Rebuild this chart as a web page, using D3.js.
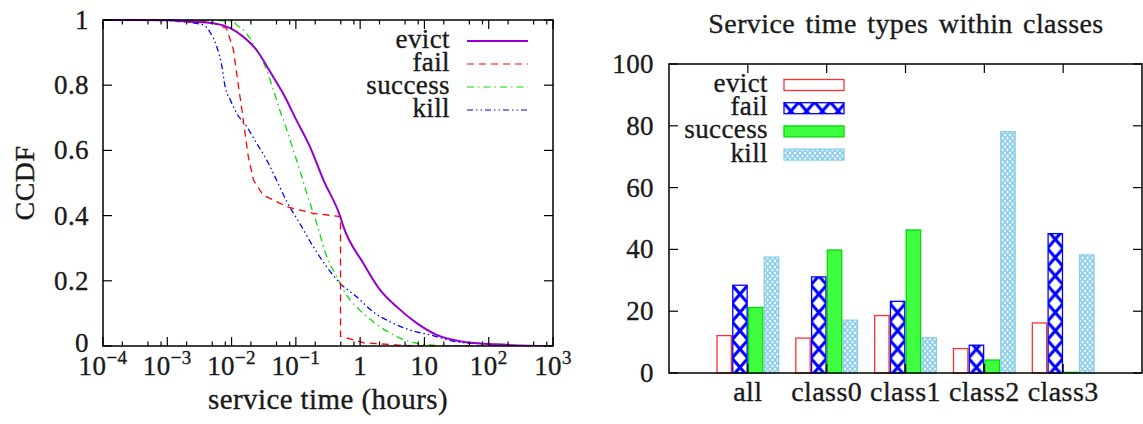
<!DOCTYPE html>
<html>
<head>
<meta charset="utf-8">
<script src="https://cdn.jsdelivr.net/npm/d3@7"></script>
<style>
  body { margin: 0; background: #fff; }
</style>
</head>
<body>
<svg id="chart" width="1143" height="424"></svg>
<script>
// CCDF of service time (hours) per termination type: [hours, ccdf]
const evictCcdf = [[0.0001,1],[0.001,0.999],[0.00224,0.995],[0.00525,0.99],[0.00955,0.975],[0.0151,0.949],[0.0245,0.908],[0.0398,0.841],[0.0631,0.775],[0.102,0.693],[0.166,0.611],[0.269,0.509],[0.49,0.397],[0.55,0.366],[1.12,0.254],[2.04,0.172],[3.72,0.12],[7.59,0.07],[15.5,0.034],[39.8,0.013],[132,0.005],[398,0.001],[1000,0]]
const failCcdf = [[0.0001,1],[0.00316,0.998],[0.00525,0.99],[0.00832,0.975],[0.0107,0.908],[0.0126,0.806],[0.0145,0.724],[0.0162,0.652],[0.0182,0.581],[0.0219,0.509],[0.0309,0.463],[0.0501,0.443],[0.0724,0.427],[0.186,0.407],[0.495,0.397],[0.495,0.03],[1.12,0.01],[3.72,0.003],[10,0],[1000,0]]
const successCcdf = [[0.0001,1],[0.00631,0.998],[0.0107,0.995],[0.012,0.985],[0.017,0.959],[0.0245,0.908],[0.0351,0.847],[0.0447,0.785],[0.0562,0.724],[0.0724,0.663],[0.0912,0.601],[0.115,0.54],[0.148,0.468],[0.211,0.376],[0.302,0.274],[0.431,0.213],[0.617,0.156],[1.12,0.1],[2.04,0.059],[3.72,0.029],[6.76,0.01],[12.3,0.003],[31.6,0],[1000,0]]
const killCcdf = [[0.0001,1],[0.001,0.998],[0.00158,0.995],[0.00363,0.985],[0.00457,0.964],[0.00589,0.918],[0.00708,0.857],[0.00794,0.795],[0.00955,0.755],[0.012,0.714],[0.0172,0.673],[0.0245,0.622],[0.0351,0.571],[0.0501,0.509],[0.0724,0.443],[0.115,0.376],[0.186,0.305],[0.302,0.243],[0.49,0.192],[0.881,0.151],[1.58,0.105],[2.88,0.075],[5.96,0.049],[12.3,0.034],[31.6,0.013],[83.2,0.006],[229,0.001],[1000,0]]

// bar chart: share (%) of each type within classes
const categories = ['all', 'class0', 'class1', 'class2', 'class3']
const types = ['evict', 'fail', 'success', 'kill']
const evictPct = [12.1, 11.3, 18.6, 7.9, 16.2]
const failPct = [28.4, 31.1, 23.2, 9.0, 45.1]
const successPct = [21.2, 39.8, 46.3, 4.2, 0.2]
const killPct = [37.5, 17.1, 11.4, 78.1, 38.2]

const xTickExps = [-4, -3, -2, -1, 0, 1, 2, 3]
const ccdfTicks = [0, 0.2, 0.4, 0.6, 0.8, 1]
const pctTicks = [0, 20, 40, 60, 80, 100]

const svg = d3.select('#chart')
svg.append('rect').attr('width', 1143).attr('height', 424).attr('fill', '#fff')

const FONT = "'Liberation Serif', 'Times New Roman', 'DejaVu Serif', serif"
const FS = 27
const TICK = 9

// every label goes through here; a hairline stroke thickens the face a bit
const label = (g, x, y, anchor, size = FS) => g.append('text')
  .attr('x', x).attr('y', y)
  .attr('text-anchor', anchor)
  .style('font-family', FONT)
  .style('font-size', size + 'px')
  .style('letter-spacing', '0.4px')
  .style('fill', '#1a1a1a')
  .style('stroke', '#1a1a1a')
  .style('stroke-width', 0.35)

// ---------- left: CCDF ----------
const L = { left: 103, right: 553, top: 20, bottom: 346 }
const x = d3.scaleLog().domain([1e-4, 1e3]).range([L.left, L.right])
const y = d3.scaleLinear().domain([0, 1]).range([L.bottom, L.top])

const left = svg.append('g')

const series = [
  { name: 'evict', data: evictCcdf, color: '#9400d3', width: 2, dash: null, curve: d3.curveMonotoneX },
  { name: 'fail', data: failCcdf, color: '#ff0000', width: 1.3, dash: '7,5', curve: d3.curveLinear },
  { name: 'success', data: successCcdf, color: '#00e000', width: 1.3, dash: '7,4,1.5,4', curve: d3.curveMonotoneX },
  { name: 'kill', data: killCcdf, color: '#0000ff', width: 1.3, dash: '6,3,1.5,3,1.5,3', curve: d3.curveMonotoneX }
]

left.append('clipPath').attr('id', 'clipL')
  .append('rect').attr('x', L.left).attr('y', L.top - 2)
  .attr('width', L.right - L.left).attr('height', L.bottom - L.top + 2)

// draw in reverse so evict sits on top
series.slice().reverse().forEach(s => {
  left.append('path')
    .attr('clip-path', 'url(#clipL)')
    .attr('d', d3.line().x(d => x(d[0])).y(d => y(d[1])).curve(s.curve)(s.data))
    .attr('fill', 'none')
    .attr('stroke', s.color)
    .attr('stroke-width', s.width)
    .attr('stroke-dasharray', s.dash)
})

// border
left.append('rect')
  .attr('x', L.left).attr('y', L.top)
  .attr('width', L.right - L.left).attr('height', L.bottom - L.top)
  .attr('fill', 'none').attr('stroke', '#000').attr('stroke-width', 1.5)

// y ticks, both sides
ccdfTicks.forEach(t => {
  left.append('line').attr('x1', L.left).attr('x2', L.left + TICK)
    .attr('y1', y(t)).attr('y2', y(t)).attr('stroke', '#000').attr('stroke-width', 1.2)
  left.append('line').attr('x1', L.right).attr('x2', L.right - TICK)
    .attr('y1', y(t)).attr('y2', y(t)).attr('stroke', '#000').attr('stroke-width', 1.2)
  label(left, L.left - 14, y(t) + (t === 0 ? 6 : 9), 'end')
    .text(t === 0 || t === 1 ? String(t) : t.toFixed(1))
})

// x ticks: majors at decades, minors at 2, 5, 8
xTickExps.forEach(e => {
  const v = Math.pow(10, e)
  ;[L.bottom, L.top].forEach((yy, k) => {
    const dir = k === 0 ? -1 : 1
    left.append('line').attr('x1', x(v)).attr('x2', x(v))
      .attr('y1', yy).attr('y2', yy + dir * TICK).attr('stroke', '#000').attr('stroke-width', 1.2)
    if (e < 3) {
      [2, 5, 8].forEach(m => {
        left.append('line').attr('x1', x(v * m)).attr('x2', x(v * m))
          .attr('y1', yy).attr('y2', yy + dir * 4.5).attr('stroke', '#000').attr('stroke-width', 1.2)
      })
    }
  })
  const lbl = label(left, x(v), L.bottom + 29, 'middle')
  if (e === 0) lbl.text('1')
  else if (e === 1) lbl.text('10')
  else {
    lbl.append('tspan').text('10')
    lbl.append('tspan').attr('dy', -11).style('font-size', '19px')
      .text(e < 0 ? '\u2212' + Math.abs(e) : String(e))
  }
})

label(left, (L.left + L.right) / 2, 409, 'middle', 29).text('service time (hours)')

label(left, 0, 0, 'middle', 28)
  .attr('transform', `translate(34, ${(L.top + L.bottom) / 2}) rotate(-90)`)
  .text('CCDF')

// legend
series.forEach((s, i) => {
  const cy = 41 + i * 23
  label(left, 450, cy + 7, 'end', 27).text(s.name)
  left.append('line')
    .attr('x1', 467).attr('x2', 528).attr('y1', cy).attr('y2', cy)
    .attr('stroke', s.color).attr('stroke-width', s.width === 2 ? 1.8 : 1.2)
    .attr('stroke-dasharray', s.dash)
})

// ---------- right: grouped bars ----------
const R = { left: 669, right: 1142, top: 64, bottom: 373 }
const x0 = d3.scaleBand().domain(categories).range([R.left, R.right])
  .paddingInner(0.2).paddingOuter(0.6)
const x1 = d3.scaleBand().domain(types).range([0, x0.bandwidth()]).padding(0)
const yb = d3.scaleLinear().domain([0, 100]).range([R.bottom, R.top])

const right = svg.append('g')
const defs = svg.append('defs')

const bw = x1.bandwidth()
const failCellH = 18.3

function addFailPattern(id, px, py) {
  const p = defs.append('pattern').attr('id', id)
    .attr('patternUnits', 'userSpaceOnUse')
    .attr('x', px).attr('y', py)
    .attr('width', bw).attr('height', failCellH)
  p.append('rect').attr('width', bw).attr('height', failCellH).attr('fill', '#fff')
  p.append('path')
    .attr('d', `M0,0L${bw},${failCellH}M${bw},0L0,${failCellH}`)
    .attr('stroke', '#0000ff').attr('stroke-width', 3)
}

const killPat = defs.append('pattern').attr('id', 'killPat')
  .attr('patternUnits', 'userSpaceOnUse').attr('width', 5).attr('height', 6)
killPat.append('rect').attr('width', 5).attr('height', 6).attr('fill', '#fff')
killPat.append('path').attr('d', 'M0,0L5,6M5,0L0,6')
  .attr('stroke', '#87ceeb').attr('stroke-width', 1.7)

const table = categories.map((c, i) => ({
  cat: c,
  values: { evict: evictPct[i], fail: failPct[i], success: successPct[i], kill: killPct[i] }
}))

table.forEach((row, i) => {
  addFailPattern('failPat' + i, x0(row.cat) + x1('fail'), R.bottom + 3.5)
})

const style = {
  evict: { fill: () => '#fff', stroke: '#ff3030' },
  fail: { fill: i => `url(#failPat${i})`, stroke: '#0000ff' },
  success: { fill: () => '#40ff40', stroke: '#00dd00' },
  kill: { fill: () => 'url(#killPat)', stroke: '#87ceeb' }
}

table.forEach((row, i) => {
  types.forEach(t => {
    const v = row.values[t]
    right.append('rect')
      .attr('x', x0(row.cat) + x1(t) + 0.7)
      .attr('y', yb(v))
      .attr('width', bw - 1.4)
      .attr('height', yb(0) - yb(v))
      .attr('fill', style[t].fill(i))
      .attr('stroke', style[t].stroke)
      .attr('stroke-width', 1.3)
  })
})

right.append('rect')
  .attr('x', R.left).attr('y', R.top)
  .attr('width', R.right - R.left).attr('height', R.bottom - R.top)
  .attr('fill', 'none').attr('stroke', '#000').attr('stroke-width', 1.5)

pctTicks.forEach(t => {
  right.append('line').attr('x1', R.left).attr('x2', R.left + TICK)
    .attr('y1', yb(t)).attr('y2', yb(t)).attr('stroke', '#000').attr('stroke-width', 1.2)
  right.append('line').attr('x1', R.right).attr('x2', R.right - TICK)
    .attr('y1', yb(t)).attr('y2', yb(t)).attr('stroke', '#000').attr('stroke-width', 1.2)
  label(right, R.left - 15, yb(t) + 9, 'end').text(t)
})

categories.forEach(c => {
  const cx = x0(c) + x0.bandwidth() / 2
  right.append('line').attr('x1', cx).attr('x2', cx)
    .attr('y1', R.top).attr('y2', R.top + TICK).attr('stroke', '#000').attr('stroke-width', 1.2)
  right.append('line').attr('x1', cx).attr('x2', cx)
    .attr('y1', R.bottom).attr('y2', R.bottom - TICK).attr('stroke', '#000').attr('stroke-width', 1.2)
  label(right, cx, 401, 'middle', 28).text(c)
})

label(right, 906, 33, 'middle', 28)
  .style('word-spacing', '3px')
  .text('Service time types within classes')

// legend
addFailPattern('failPatLeg', 783, 102)
types.forEach((t, i) => {
  const cy = 85 + i * 23.2
  label(right, 768, cy + 7, 'end', 27).text(t)
  right.append('rect')
    .attr('x', 784).attr('y', cy - 5.5)
    .attr('width', 60).attr('height', 11)
    .attr('fill', t === 'fail' ? 'url(#failPatLeg)' : style[t].fill(0))
    .attr('stroke', style[t].stroke).attr('stroke-width', 1.3)
})
</script>
</body>
</html>
